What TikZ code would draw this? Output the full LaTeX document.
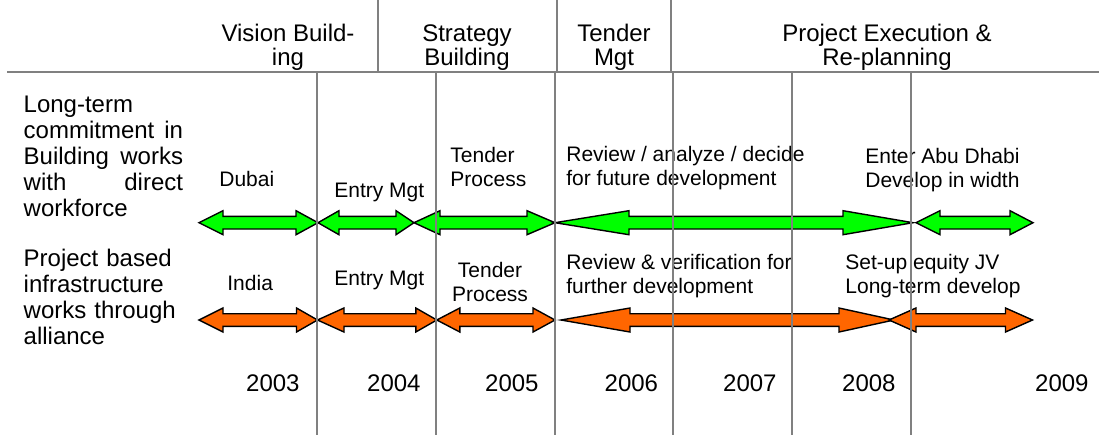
\documentclass[tikz,border=0pt]{standalone}
\usepackage{fontspec}
\setmainfont{Liberation Sans}

\definecolor{timegreen}{RGB}{0,255,0}
\definecolor{timeorange}{RGB}{255,102,0}
\definecolor{gridgray}{RGB}{128,128,128}

% block arrow: left tip, right tip, y, left head, right head, fill
\newcommand{\blockarrow}[6]{%
  \filldraw[fill=#6, draw=black, line width=0.7pt]
    (#1,#3) -- (#1+#4,#3-12) -- (#1+#4,#3-6.3) -- (#2-#5,#3-6.3)
    -- (#2-#5,#3-12) -- (#2,#3) -- (#2-#5,#3+12) -- (#2-#5,#3+6.3)
    -- (#1+#4,#3+6.3) -- (#1+#4,#3+12) -- cycle;}

\begin{document}
\begin{tikzpicture}[x=0.5pt, y=-0.5pt,
    gridline/.style={gridgray, line width=1pt},
    headtext/.style={inner sep=0pt, anchor=base, align=center, font=\fontsize{12}{12}\selectfont},
    sidetext/.style={inner sep=0pt, anchor=base west, text width=79.7pt, align=left, font=\fontsize{12}{13}\selectfont},
    lbl/.style={inner sep=0pt, anchor=base west, align=left, font=\fontsize{10.5}{12}\selectfont},
    yearlbl/.style={inner sep=0pt, anchor=base east, font=\fontsize{12}{12}\selectfont}]
    \useasboundingbox (0,0) rectangle (1099,435);

    % Phase header (base = last line)
    \node[headtext] (vision) at (288,65) {Vision Build-\\ing};
    \node[headtext] (strategy) at (467,65) {Strategy\\Building};
    \node[headtext] (tender) at (614,65) {Tender\\Mgt};
    \node[headtext] (execution) at (887,65) {Project Execution \&\\Re-planning};

    % Business lines
    \node[sidetext] (building) at (23.3,112.3) {Long-term\\ commitment\hfill in\\ Building\hfill works\\ with\hfill direct\\ workforce};
    \node[sidetext] (infra) at (23.3,266) {Project based\\ infrastructure\\ works through\\ alliance};

    % Building works (green)
    \blockarrow{199}{318}{222.7}{24}{22}{timegreen}
    \blockarrow{318}{414}{222.7}{21}{18}{timegreen}
    \blockarrow{414}{555}{222.7}{26}{28}{timegreen}
    \blockarrow{555}{913}{222.7}{74}{70}{timegreen}
    \blockarrow{916}{1033}{222.7}{24}{23}{timegreen}
    \node[lbl] (dubai) at (219,186) {Dubai};
    \node[lbl] (entry1) at (334,197) {Entry Mgt};
    \node[lbl] (process1) at (450,186) {Tender\\Process};
    \node[lbl] (review1) at (566,185) {Review / analyze / decide\\for future development};
    \node[lbl] (abudhabi) at (865,187) {Enter Abu Dhabi\\Develop in width};

    % Infrastructure works (orange)
    \blockarrow{199}{317.5}{320}{24}{21}{timeorange}
    \blockarrow{317.5}{436.8}{320}{26.5}{21}{timeorange}
    \blockarrow{436.8}{555}{320}{23}{22}{timeorange}
    \blockarrow{561}{894}{320}{69}{55}{timeorange}
    \blockarrow{889}{1032.5}{320}{27}{27}{timeorange}
    \node[lbl] (india) at (227,290) {India};
    \node[lbl] (entry2) at (334,285) {Entry Mgt};
    \node[lbl, anchor=base, align=center] (process2) at (490,301) {Tender\\Process};
    \node[lbl] (review2) at (566,293) {Review \& verification for\\further development};
    \node[lbl] (equityjv) at (845,293) {Set-up equity JV\\Long-term develop};

    % Years
    \node[yearlbl] (y2003) at (300,391) {2003};
    \node[yearlbl] (y2004) at (421,391) {2004};
    \node[yearlbl] (y2005) at (539,391) {2005};
    \node[yearlbl] (y2006) at (658.5,391) {2006};
    \node[yearlbl] (y2007) at (777,391) {2007};
    \node[yearlbl] (y2008) at (896,391) {2008};
    \node[yearlbl] (y2009) at (1089,391) {2009};

    % Grid
    \draw[gridline] (7,72) -- (1099,72);
    \foreach \x in {378,557,671}
        \draw[gridline] (\x,0) -- (\x,72);
    \foreach \x in {317,436,555,673,792,911}
        \draw[gridline] (\x,72) -- (\x,435);
\end{tikzpicture}
\end{document}
